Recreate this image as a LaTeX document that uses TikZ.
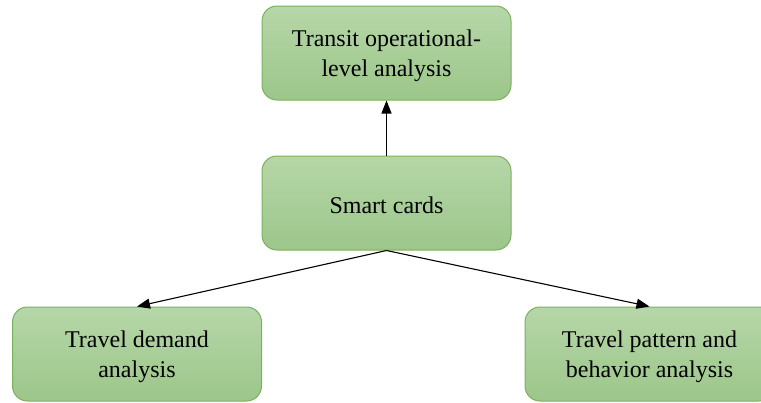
\documentclass[tikz,border=0pt]{standalone}
\usepackage{fontspec}
\setmainfont{Liberation Serif}
\usetikzlibrary{arrows.meta,shadings}
\definecolor{gtop}{HTML}{B6D7A8}
\definecolor{gbot}{HTML}{9CC68A}
\definecolor{gborder}{HTML}{7DB05E}
\tikzset{
  box/.style={draw=gborder, line width=1pt, rounded corners=15pt,
    top color=gtop, bottom color=gbot, minimum width=249pt, minimum height=94pt,
    inner sep=0pt},
  txt/.style={align=center, inner sep=0pt, font=\fontsize{24pt}{30pt}\selectfont},
  conn/.style={line width=1.1pt, -{Triangle[length=13pt,width=10pt]}}
}
\begin{document}
\begin{tikzpicture}[x=1pt,y=-1pt]
\useasboundingbox (0,0) rectangle (761,402);
\clip (0,0) rectangle (761,402);
\node[box] (top) at (386.5,53) {};
\node[box] (mid) at (386.5,203) {};
\node[box] (left) at (137,354) {};
\node[box] (right) at (649.5,354) {};
\node[txt] (toptext) at ([yshift=-3pt]top.center) {Transit operational-\\level analysis};
\node[txt] (midtext) at ([yshift=-2pt]mid.center) {Smart cards};
\node[txt] (lefttext) at ([yshift=-3pt]left.center) {Travel demand\\analysis};
\node[txt] (righttext) at ([yshift=-3pt]right.center) {Travel pattern and\\behavior analysis};
\draw[conn] (mid.north) -- (top.south);
\draw[conn] (mid.south) -- (left.north);
\draw[conn] (mid.south) -- (right.north);
\end{tikzpicture}
\end{document}
